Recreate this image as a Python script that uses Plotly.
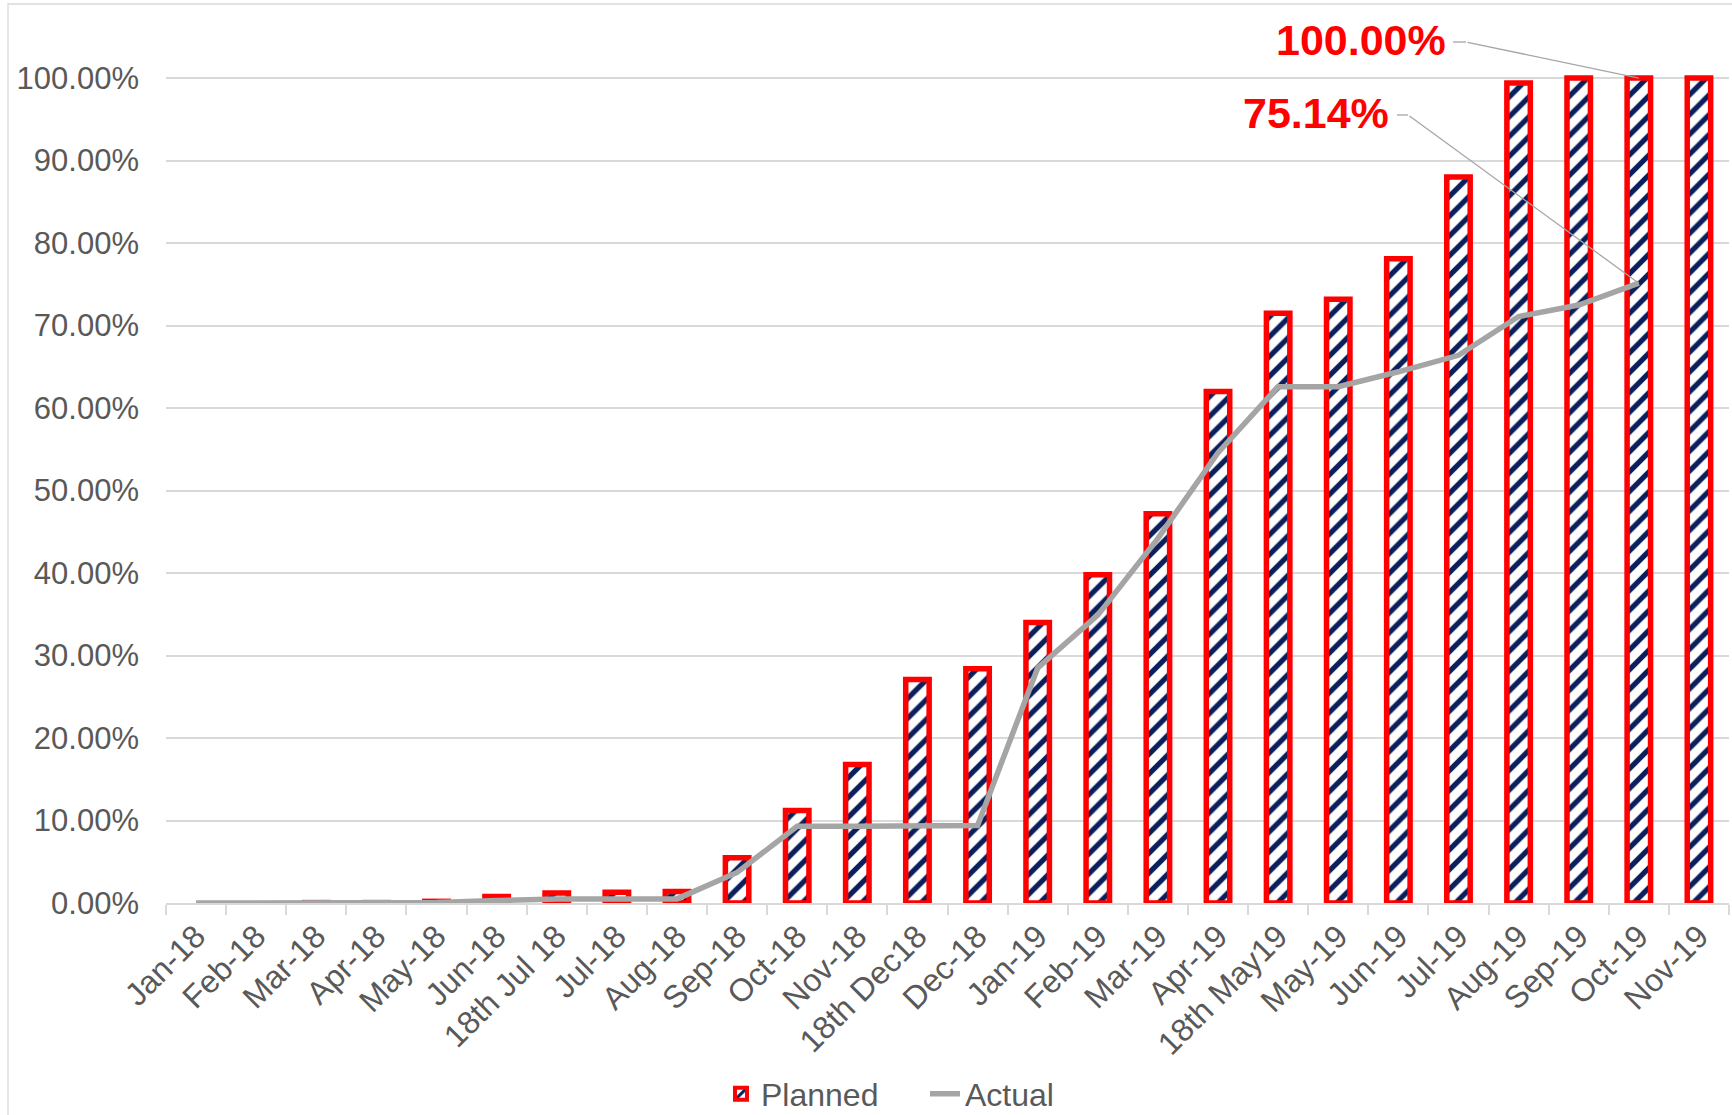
import plotly.graph_objects as go

categories = ["Jan-18", "Feb-18", "Mar-18", "Apr-18", "May-18", "Jun-18", "18th Jul 18", "Jul-18",
              "Aug-18", "Sep-18", "Oct-18", "Nov-18", "18th Dec18", "Dec-18", "Jan-19", "Feb-19",
              "Mar-19", "Apr-19", "18th May19", "May-19", "Jun-19", "Jul-19", "Aug-19", "Sep-19",
              "Oct-19", "Nov-19"]
planned = [0.0, 0.0, 0.0005, 0.0005, 0.002, 0.008, 0.012, 0.013, 0.014, 0.055, 0.112, 0.168,
           0.271, 0.284, 0.340, 0.398, 0.472, 0.620, 0.715, 0.732, 0.781, 0.880, 0.994, 1.0,
           1.0, 1.0]
actual = [0.0, 0.0, 0.0, 0.0, 0.0005, 0.003, 0.005, 0.005, 0.005, 0.037, 0.093, 0.093,
          0.093, 0.094, 0.285, 0.349, 0.442, 0.546, 0.626, 0.626, 0.644, 0.664, 0.711, 0.725,
          0.7514]
ytick_vals = [0.0, 0.1, 0.2, 0.3, 0.4, 0.5, 0.6, 0.7, 0.8, 0.9, 1.0]
ytick_text = ["0.00%", "10.00%", "20.00%", "30.00%", "40.00%", "50.00%", "60.00%", "70.00%",
              "80.00%", "90.00%", "100.00%"]

FONT = "Liberation Sans, Arial, sans-serif"
GRAY_TXT = "#595959"
GRID = "#d9d9d9"
BAR_PATTERN = dict(shape="/", fgcolor="#0b1f5c", bgcolor="white",
                   size=14, solidity=0.38, fillmode="replace")

fig = go.Figure()
fig.add_trace(go.Bar(
    x=categories, y=planned, name="Planned", width=0.39, showlegend=False,
    marker=dict(color="white",
                line=dict(color="#ff0000", width=[0 if v == 0 else 5.5 for v in planned]),
                pattern=BAR_PATTERN),
))
# legend entry for the bars (no data)
fig.add_trace(go.Bar(
    x=[None], y=[None], name="Planned", showlegend=True,
    marker=dict(color="white", line=dict(color="#ff0000", width=4), pattern=BAR_PATTERN),
))
fig.add_trace(go.Scatter(
    x=categories[:len(actual)], y=actual, name="Actual", mode="lines",
    line=dict(color="#a5a5a5", width=5.5), cliponaxis=False,
))

# plot geometry (pixels)
L, R, T, B = 166, 3, 74, 212
W, H = 1732, 1115
PW, PH = W - L - R, H - T - B
YMAX = 1.005


def px(xp):
    return (xp - L) / PW


def py(yp):
    return (H - B - yp) / PH


last = len(actual) - 1
oct_cat = categories[last]
oct_px = L + PW * (last + 0.5) / len(categories)


def val_py(v):
    return H - B - v * PH / YMAX


annotations = [
    dict(text="<b>100.00%</b>", xref="paper", yref="paper", x=px(1361), y=py(40),
         showarrow=False, font=dict(family=FONT, size=43, color="#ff0000"),
         xanchor="center", yanchor="middle"),
    dict(text="<b>75.14%</b>", xref="paper", yref="paper", x=px(1316), y=py(113),
         showarrow=False, font=dict(family=FONT, size=43, color="#ff0000"),
         xanchor="center", yanchor="middle"),
    # leader lines
    dict(text="", x=oct_cat, y=planned[last], xref="x", yref="y", showarrow=True,
         arrowhead=0, arrowwidth=1.3, arrowcolor="#a6a6a6", standoff=0,
         axref="pixel", ayref="pixel", ax=1466 - oct_px, ay=42 - val_py(planned[last])),
    dict(text="", x=oct_cat, y=actual[last], xref="x", yref="y", showarrow=True,
         arrowhead=0, arrowwidth=1.3, arrowcolor="#a6a6a6", standoff=0,
         axref="pixel", ayref="pixel", ax=1408 - oct_px, ay=115 - val_py(actual[last])),
]

shapes = [
    dict(type="line", xref="paper", yref="paper", x0=px(1453), x1=px(1466), y0=py(42), y1=py(42),
         line=dict(color="#a6a6a6", width=1.3)),
    dict(type="line", xref="paper", yref="paper", x0=px(1397), x1=px(1408), y0=py(115), y1=py(115),
         line=dict(color="#a6a6a6", width=1.3)),
    # chart border
    dict(type="rect", xref="paper", yref="paper", x0=px(8), x1=px(1745), y0=py(1200), y1=py(4),
         line=dict(color=GRID, width=1.3), layer="below"),
]

fig.update_layout(
    width=W, height=H,
    margin=dict(l=L, r=R, t=T, b=B, pad=0, autoexpand=False),
    paper_bgcolor="white", plot_bgcolor="white",
    font=dict(family=FONT, size=31, color=GRAY_TXT),
    barmode="overlay",
    showlegend=True,
    legend=dict(orientation="h", x=px(721), xanchor="left", y=py(1094), yanchor="middle",
                font=dict(family=FONT, size=32, color=GRAY_TXT), itemwidth=30,
                entrywidth=159, entrywidthmode="pixels",
                bgcolor="rgba(0,0,0,0)"),
    xaxis=dict(type="category", categoryorder="array", categoryarray=categories,
               tickangle=-45, tickfont=dict(family=FONT, size=32, color=GRAY_TXT),
               showline=True, linecolor=GRID, linewidth=1.5, automargin=False,
               ticks="outside", tickson="boundaries", ticklen=10, tickcolor=GRID, tickwidth=1.5,
               showgrid=False, zeroline=False, range=[-0.5, len(categories) - 0.5]),
    yaxis=dict(range=[0, YMAX], tickvals=ytick_vals, ticktext=ytick_text, automargin=False,
               tickfont=dict(family=FONT, size=31, color=GRAY_TXT),
               showgrid=True, gridcolor=GRID, gridwidth=1.5, zeroline=False,
               showline=False, ticks="", ticklabelstandoff=26),
    annotations=annotations,
    shapes=shapes,
)

fig.write_html("out.html", config={"displayModeBar": False},
               post_script="document.body.style.margin='0px';")
